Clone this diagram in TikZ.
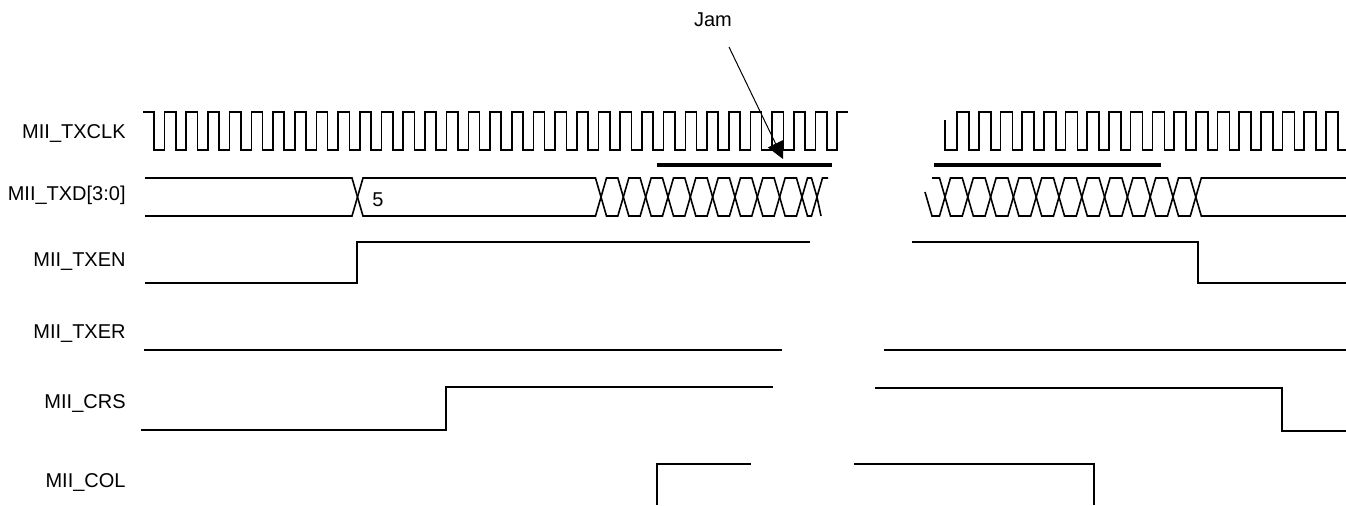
\documentclass[tikz,border=0pt]{standalone}
\usepackage{fontspec}
\setsansfont{Liberation Sans}
\usetikzlibrary{arrows.meta}

% one bus cell between two crossings (x positions)
\newcommand\buscell[2]{%
  \draw[wave] ({#1},197) -- ({#1+5.5},178) -- ({#2-5.5},178) -- ({#2},197)
    -- ({#2-5.5},216) -- ({#1+5.5},216) -- cycle;}

\begin{document}
\begin{tikzpicture}[font=\sffamily\fontsize{10}{12}\selectfont, x=0.5pt, y=-0.5pt]
  \path[use as bounding box] (0,0) rectangle (1346,505);

  \tikzset{
    wave/.style={line width=0.8pt, line join=miter},
    signame/.style={anchor=east, inner sep=0pt},
    jambar/.style={line width=2pt},
  }

  % Signal names, right aligned.
  \node[signame] (nclk) at (126,133) {MII\_TXCLK};
  \node[signame] (ntxd) at (126,195) {MII\_TXD[3:0]};
  \node[signame] (ntxen) at (126,262) {MII\_TXEN};
  \node[signame] (ntxer) at (126,334) {MII\_TXER};
  \node[signame] (ncrs) at (126,403) {MII\_CRS};
  \node[signame] (ncol) at (126,482) {MII\_COL};

  % MII_TXCLK, before and after the break.
  \draw[wave] (143,112) \foreach \k in {0,...,31} {
      -- ({154+21.7*\k},112) -- ({154+21.7*\k},150)
      -- ({164.5+21.7*\k},150) -- ({164.5+21.7*\k},112) } -- (848,112);
  \draw[wave] (945,120) -- (945,150) \foreach \k in {0,...,17} {
      -- ({957+21.7*\k},150) -- ({957+21.7*\k},112)
      -- ({969+21.7*\k},112) -- ({969+21.7*\k},150) } -- (1346,150);

  % MII_TXD[3:0]
  \draw[wave] (145,178) -- (352,178) -- (357.5,197) -- (352,216) -- (145,216);
  \buscell{357.5}{601}
  \node (five) at (378,200) {5};
  \foreach \k in {0,...,8} {\buscell{601+22.33*\k}{601+22.33*(\k+1)}}
  \buscell{802}{817}
  \draw[wave] (828,178) -- (822.5,178) -- (817,197) -- (821,216);
  \draw[wave] (925,192) -- (932,216) -- (939.5,216) -- (945,197) -- (939.5,178) -- (932,178);
  \foreach \k in {0,...,10} {\buscell{945+22.8*\k}{945+22.8*(\k+1)}}
  \draw[wave] (1346,178) -- (1201.3,178) -- (1195.8,197) -- (1201.3,216) -- (1346,216);

  % Jam bars and pointer
  \draw[jambar] (657,165) -- (832,165);
  \draw[jambar] (934,165) -- (1161,165);
  \node (jam) at (713,20) {Jam};
  \coordinate (jamtail) at (729,47);
  \coordinate (jamtip) at (783,159);
  \draw[line width=0.5pt, -{Triangle[length=8.5pt,width=8.5pt]}] (jamtail) -- (jamtip);

  % MII_TXEN
  \draw[wave] (145,283) -- (357,283) -- (357,242) -- (810,242);
  \draw[wave] (912,242) -- (1198,242) -- (1198,283) -- (1346,283);

  % MII_TXER
  \draw[wave] (144,350) -- (782,350);
  \draw[wave] (884,350) -- (1346,350);

  % MII_CRS
  \draw[wave] (141,430) -- (446,430) -- (446,387) -- (773,387);
  \draw[wave] (875,388) -- (1282,388) -- (1282,431) -- (1346,431);

  % MII_COL
  \draw[wave] (657,505) -- (657,464) -- (751,464);
  \draw[wave] (854,464) -- (1094,464) -- (1094,505);
\end{tikzpicture}
\end{document}
